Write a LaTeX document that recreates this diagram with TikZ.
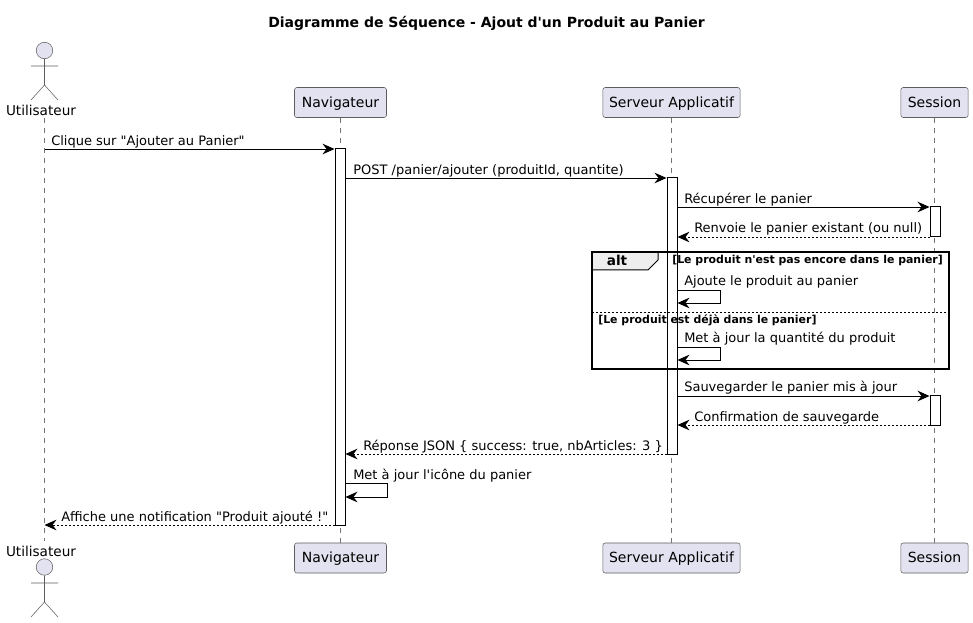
\documentclass[tikz,border=0pt]{standalone}
\usepackage{fontspec}
\setmainfont{DejaVu Sans}[Ligatures=TeXOff]
\usetikzlibrary{arrows.meta,positioning}
\definecolor{partfill}{HTML}{E2E2F0}
\definecolor{partline}{HTML}{181818}
\definecolor{tabfill}{HTML}{EEEEEE}
\tikzset{
    part/.style={draw=partline!70,line width=0.4pt,fill=partfill,rounded corners=1.8pt,font=\fontsize{10.5}{12}\selectfont,
                 minimum height=22.5pt,inner xsep=0pt,text height=9.5pt,text depth=2.3pt},
    lifeline/.style={draw=partline!60,line width=0.4pt,dash pattern=on 3.75pt off 3.75pt},
    stick/.style={draw=partline!70,line width=0.4pt},
    bar/.style={draw=black,line width=0.75pt,fill=white,minimum width=7.5pt,inner sep=0pt},
    msg/.style={draw=black,line width=0.7pt,-{Stealth[length=9pt,width=8pt,inset=3pt]}},
    rep/.style={msg,dash pattern=on 1.5pt off 1.5pt},
    msgtext/.style={anchor=base west,inner sep=0pt,font=\fontsize{9.75}{12}\selectfont},
    guard/.style={inner sep=0pt,font=\fontsize{8.2}{10}\selectfont\bfseries},
}
\begin{document}
\begin{tikzpicture}[x=0.75pt,y=-0.75pt]
    \useasboundingbox (0,0) rectangle (973,623);
    \node[font=\fontsize{10.5}{13}\selectfont\bfseries] (title) at (486.5,23.5) {Diagramme de Séquence - Ajout d'un Produit au Panier};

    % Participants
    \node[part,minimum width=69pt] (nav) at (340.5,102.5) {Navigateur};
    \node[part,minimum width=103pt] (srv) at (671.5,102.5) {Serveur Applicatif};
    \node[part,minimum width=50.5pt] (ses) at (934.5,102.5) {Session};
    \node[part,minimum width=69pt] (navb) at (340.5,558) {Navigateur};
    \node[part,minimum width=103pt] (srvb) at (671.5,558) {Serveur Applicatif};
    \node[part,minimum width=50.5pt] (sesb) at (934.5,558) {Session};
    \node[font=\fontsize{10.2}{12}\selectfont] (usr) at (41,110.5) {Utilisateur};
    \node[font=\fontsize{10.2}{12}\selectfont] (usrb) at (41,551.5) {Utilisateur};

    % Actors
    \coordinate (usrtop) at (44.5,118);
    \coordinate (usrbot) at (44.5,541);
    \node[circle,stick,fill=partfill,minimum size=12.4pt,inner sep=0pt] (head) at (44.5,50.5) {};
    \coordinate (hip) at (44.5,85);
    \draw[stick] (head) -- (hip) -- ++(-13.5,15) (hip) -- ++(13.5,15) (31,66) -- (58,66);
    \node[circle,stick,fill=partfill,minimum size=12.4pt,inner sep=0pt] (headb) at (44.5,567) {};
    \coordinate (hipb) at (44.5,602);
    \draw[stick] (headb) -- (hipb) -- ++(-13.5,15) (hipb) -- ++(13.5,15) (31,583) -- (58,583);

    % Lifelines
    \draw[lifeline] (usrtop) -- (usrbot);
    \draw[lifeline] (nav) -- (navb);
    \draw[lifeline] (srv) -- (srvb);
    \draw[lifeline] (ses) -- (sesb);

    % Activations
    \node[bar,minimum height=282pt] (navbar) at (340,337) {};
    \node[bar,minimum height=207pt] (srvbar) at (672,316) {};
    \node[bar,minimum height=22.5pt] (sesbar) at (935,222) {};
    \node[bar,minimum height=22pt] (sesbarb) at (935,410.5) {};

    % Messages
    \foreach \name/\y in {m1/149,m2/178,m3/207,m4/237,m5/290,m6/303,m7/347,m8/360,m9/396,m10/425,m11/454,m12/483,m13/497,m14/525}
        \coordinate (\name) at (0,\y);
    \draw[msg] (usrtop |- m1) -- (navbar.west |- m1);
    \draw[msg] (navbar.east |- m2) -- (srvbar.west |- m2);
    \draw[msg] (srvbar.east |- m3) -- (sesbar.west |- m3);
    \draw[rep] (sesbar.west |- m4) -- (srvbar.east |- m4);
    \draw[msg] (srvbar.east |- m5) -- ++(43,0) |- (srvbar.east |- m6);
    \draw[msg] (srvbar.east |- m7) -- ++(43,0) |- (srvbar.east |- m8);
    \draw[msg] (srvbar.east |- m9) -- (sesbarb.west |- m9);
    \draw[rep] (sesbarb.west |- m10) -- (srvbar.east |- m10);
    \draw[rep] (srvbar.west |- m11) -- (navbar.east |- m11);
    \draw[msg] (navbar.east |- m12) -- ++(42,0) |- (navbar.east |- m13);
    \draw[rep] (navbar.west |- m14) -- (usrtop |- m14);

    \node[msgtext] (t1) at (51,145.5) {Clique sur "Ajouter au Panier"};
    \node[msgtext] (t2) at (353,174.5) {POST /panier/ajouter (produitId, quantite)};
    \node[msgtext] (t3) at (684,203.5) {Récupérer le panier};
    \node[msgtext] (t4) at (694,232.5) {Renvoie le panier existant (ou null)};
    \node[msgtext] (t5) at (684,285.5) {Ajoute le produit au panier};
    \node[msgtext] (t6) at (684,342.5) {Met à jour la quantité du produit};
    \node[msgtext] (t7) at (684,391.5) {Sauvegarder le panier mis à jour};
    \node[msgtext] (t8) at (694,421) {Confirmation de sauvegarde};
    \node[msgtext] (t9) at (363,450) {Réponse JSON \{ success: true, nbArticles: 3 \}};
    \node[msgtext] (t10) at (353,479) {Met à jour l'icône du panier};
    \node[msgtext] (t11) at (61,521) {Affiche une notification "Produit ajouté !"};

    % Alt frame
    \draw[draw=black,fill=tabfill,line width=0.75pt] (592,252) -- (658,252) -- (658,260) -- (648,270) -- (592,270) -- cycle;
    \draw[draw=black,line width=1.5pt] (592,252) rectangle (949,369);
    \draw[draw=black,line width=0.6pt,dash pattern=on 1.5pt off 1.5pt] (592,312) -- (949,312);
    \node[anchor=base,inner sep=0pt,font=\fontsize{10.2}{12}\selectfont\bfseries] (alt) at (617,265.5) {alt};
    \node[guard,anchor=base west] (g1) at (672,264) {[Le produit n'est pas encore dans le panier]};
    \node[guard,anchor=base west] (g2) at (598,323) {[Le produit est déjà dans le panier]};
\end{tikzpicture}
\end{document}
